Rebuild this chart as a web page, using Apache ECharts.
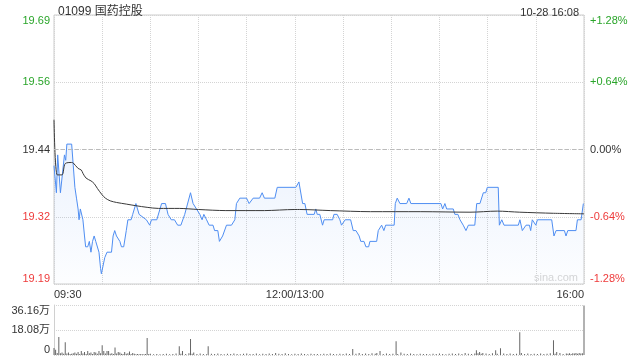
<!DOCTYPE html>
<html>
<head>
<meta charset="utf-8">
<script src="https://cdn.jsdelivr.net/npm/echarts@6/dist/echarts.min.js"></script>
<style>html,body{margin:0;padding:0;background:#fff;}#c{width:640px;height:360px;}</style>
</head>
<body>
<div id="c"></div>
<script>
// ---------- data ----------
var stockTitle = '01099 国药控股';
var stampText = '10-28 16:08';
var prevClose = 19.44;
var xTickMinutes = [0, 150, 330];
var xTickLabels = ['09:30', '12:00/13:00', '16:00'];
var priceTickLabels = ['19.19', '19.32', '19.44', '19.56', '19.69'];
var pctTickLabels = ['-1.28%', '-0.64%', '0.00%', '+0.64%', '+1.28%'];
var volTickLabels = ['0', '18.08万', '36.16万'];
var volMax = 361600;

// [minute since 09:30 (trading minutes), price]
var pricePoints = [
[0,19.41],[1.5,19.36],[2.3,19.43],[4,19.36],[6.5,19.43],[7.3,19.42],[8,19.45],[11,19.45],[12,19.41],[13,19.37],
[14,19.35],[15,19.33],[15.6,19.31],[16.4,19.33],[17.3,19.33],[18,19.31],[19,19.28],[19.7,19.26],[21,19.26],[22,19.27],
[23,19.25],[24,19.27],[25,19.28],[26,19.27],[27,19.27],[28,19.25],[29,19.22],[29.5,19.21],[30,19.21],[31.6,19.24],
[32.6,19.24],[33,19.25],[35.8,19.25],[36.8,19.28],[37.8,19.29],[38.9,19.28],[39.9,19.28],[41,19.27],[42,19.26],[43.4,19.26],
[45,19.29],[46,19.31],[48,19.31],[49,19.32],[50,19.32],[51,19.34],[52,19.33],[53,19.32],[57.5,19.31],[59.6,19.30],
[60.7,19.31],[64,19.31],[67,19.34],[69.4,19.34],[71,19.32],[73,19.31],[75,19.31],[77,19.30],[79,19.30],[81.4,19.32],
[82.5,19.32],[85,19.36],[86.6,19.34],[88.7,19.33],[90.8,19.32],[92.2,19.31],[93.3,19.32],[95,19.31],[96.6,19.30],[99,19.30],
[100,19.29],[102,19.29],[103,19.27],[105,19.28],[107.4,19.30],[110.5,19.30],[112.6,19.31],[113.6,19.34],[115.7,19.35],[119.9,19.35],
[121.5,19.34],[124,19.35],[128,19.35],[129.6,19.36],[131,19.35],[137.5,19.35],[139,19.37],[150.6,19.37],[152.5,19.38],[153.7,19.38],
[154.8,19.34],[156.2,19.34],[157.6,19.32],[162,19.32],[163,19.33],[163.9,19.32],[165.5,19.32],[167.2,19.30],[168.2,19.31],[173.5,19.31],
[174.3,19.32],[176.3,19.32],[178,19.31],[179,19.30],[181.3,19.31],[184.7,19.31],[186.3,19.29],[188,19.29],[190,19.28],[191,19.27],
[193,19.27],[194.2,19.26],[195.9,19.26],[196.7,19.27],[200.9,19.27],[201.9,19.29],[204,19.30],[205.4,19.29],[206.5,19.30],[211.8,19.30],
[212.5,19.34],[213.7,19.35],[215.4,19.34],[219.6,19.34],[221,19.35],[222.2,19.34],[240.9,19.34],[242,19.33],[243.4,19.34],[244.5,19.33],
[248.6,19.33],[249.6,19.32],[251.5,19.32],[252.8,19.31],[254.8,19.30],[256.5,19.29],[258,19.30],[262,19.30],[263.2,19.34],[265.2,19.34],
[267.3,19.36],[268.8,19.36],[269.8,19.37],[276.6,19.37],[277.3,19.30],[278.8,19.31],[280.2,19.30],[289.1,19.30],[290.1,19.31],[291.6,19.29],
[292.8,19.29],[293.9,19.30],[296,19.30],[296.8,19.29],[297.8,19.31],[298.9,19.31],[300,19.30],[301,19.31],[309.9,19.31],[311.3,19.28],
[312.6,19.29],[317.8,19.29],[318.8,19.28],[319.9,19.29],[325,19.29],[325.9,19.31],[328.2,19.31],[329.6,19.34],[330,19.34]
];

// [minute, average price]
var avgPoints = [
[0,19.495],[2,19.393],[5,19.393],[7,19.414],[11,19.416],[12,19.415],[15,19.405],[17,19.402],[18,19.396],[20,19.387],
[23,19.382],[25,19.377],[27,19.368],[30,19.356],[32,19.350],[35,19.345],[39,19.342],[45,19.339],[51,19.336],[58,19.333],
[65,19.331],[78,19.331],[90,19.329],[107,19.327],[131,19.327],[150,19.329],[153,19.329],[172,19.327],[197,19.325],[228,19.325],
[259,19.324],[276,19.326],[290,19.324],[311,19.322],[330,19.321]
];

// [minute, volume (shares)]
var volumePoints = [
[0,50000],[1,38000],[2,14000],[3,130000],[4,12000],[5,18000],[6,9000],[7,92000],[8,10000],[9,18000],
[10,7000],[11,9000],[12,12000],[13,18000],[14,9000],[15,22000],[16,8000],[17,29000],[18,10000],[19,22000],
[20,7000],[21,29000],[22,12000],[23,18000],[24,8000],[25,22000],[26,18000],[27,9000],[28,29000],[29,12000],
[30,70000],[31,29000],[32,10000],[33,29000],[34,29000],[35,9000],[36,12000],[37,8000],[38,55000],[39,10000],
[40,22000],[41,18000],[42,9000],[43,7000],[44,22000],[45,9000],[46,12000],[47,25000],[48,8000],[49,14000],
[50,9000],[51,6000],[52,8000],[53,5000],[54,7000],[55,6000],[56,5000],[57,8000],[58,123000],[59,7000],
[60,9000],[62,6000],[64,8000],[66,5000],[68,7000],[70,9000],[72,6000],[74,8000],[76,11000],[78,63000],
[79,9000],[80,29000],[82,8000],[84,12000],[85,116000],[86,9000],[87,18000],[89,7000],[91,10000],[93,8000],
[95,6000],[96,63000],[98,9000],[100,7000],[102,11000],[104,8000],[106,6000],[108,9000],[110,7000],[112,10000],
[114,8000],[116,6000],[118,9000],[120,11000],[122,7000],[124,8000],[126,10000],[128,6000],[130,9000],[132,7000],
[134,11000],[136,8000],[138,14000],[140,9000],[142,7000],[144,12000],[146,8000],[148,6000],[150,9000],[152,7000],
[154,10000],[156,8000],[158,6000],[160,9000],[162,7000],[164,8000],[166,6000],[168,9000],[170,7000],[172,10000],
[174,8000],[176,6000],[178,9000],[180,7000],[182,11000],[184,8000],[186,43000],[188,9000],[190,14000],[192,8000],
[194,11000],[196,7000],[198,12000],[200,9000],[201,14000],[203,29000],[205,8000],[207,10000],[209,7000],[211,9000],
[213,99000],[214,8000],[216,18000],[218,9000],[220,7000],[222,10000],[224,8000],[226,6000],[228,9000],[230,7000],
[232,8000],[234,6000],[236,9000],[238,7000],[240,10000],[242,8000],[244,6000],[246,9000],[248,11000],[250,8000],
[252,10000],[254,7000],[256,14000],[258,9000],[260,8000],[262,11000],[263,34000],[264,12000],[265,22000],[266,9000],
[267,14000],[269,10000],[271,8000],[273,12000],[275,34000],[276,9000],[278,48000],[280,10000],[282,8000],[284,11000],
[286,7000],[288,9000],[290,164000],[291,14000],[293,8000],[295,10000],[297,7000],[299,9000],[301,8000],[303,11000],
[305,7000],[307,9000],[309,12000],[311,106000],[312,9000],[313,22000],[315,14000],[317,8000],[319,11000],[320,9000],
[321,13000],[322,8000],[323,12000],[324,10000],[325,14000],[326,9000],[327,15000],[328,11000],[329,13000],[330,358000]
];

// ---------- helpers ----------
function toPct(p) { return (p / prevClose - 1) * 100; }
var GREEN = '#2aa52a', RED = '#ee3b3b', DARK = '#333333';
function pctIndex(v) { return Math.round((parseFloat(v) + 1.28) / 0.64); }
function pctColor(v) {
  var i = pctIndex(v);
  return i > 2 ? GREEN : (i < 2 ? RED : DARK);
}
var FONT = "'Liberation Sans', Arial, 'Noto Sans CJK SC', sans-serif";

var priceSeries = pricePoints.map(function (d) { return [d[0], toPct(d[1])]; });
var avgSeries = avgPoints.map(function (d) { return [d[0], toPct(d[1])]; });

var chart = echarts.init(document.getElementById('c'), null, { renderer: 'canvas' });
chart.setOption({
  animation: false,
  backgroundColor: '#fff',
  textStyle: { fontFamily: FONT },
  title: [
    { text: stockTitle, left: 53, top: 1, textStyle: { fontSize: 12, fontWeight: 'normal', color: '#333', fontFamily: FONT } },
    { text: stampText, right: 56, top: 2, textStyle: { fontSize: 11, fontWeight: 'normal', color: '#333', fontFamily: FONT } }
  ],
  grid: [
    { left: 54, right: 56, top: 15, height: 269, show: true, borderColor: '#cccccc', borderWidth: 1, backgroundColor: 'transparent' },
    { left: 54, right: 56, top: 305, height: 50, show: false }
  ],
  xAxis: [
    {
      type: 'value', gridIndex: 0, min: 0, max: 330, interval: 30,
      axisLine: { show: false }, axisTick: { show: false },
      splitLine: { show: true, lineStyle: { color: '#d4d4d4', type: 'dotted', width: 1 } },
      axisLabel: {
        margin: 5, fontSize: 11, color: '#333', fontFamily: FONT,
        showMinLabel: true, showMaxLabel: true,
        alignMinLabel: 'left', alignMaxLabel: 'right',
        formatter: function (v) {
          var i = xTickMinutes.indexOf(Math.round(v));
          return i >= 0 ? xTickLabels[i] : '';
        }
      }
    },
    {
      type: 'value', gridIndex: 1, min: 0, max: 330, interval: 30,
      axisLine: { show: false }, axisTick: { show: false },
      splitLine: { show: false }, axisLabel: { show: false }
    }
  ],
  yAxis: [
    {
      type: 'value', gridIndex: 0, min: -1.28, max: 1.28, interval: 0.64,
      axisLine: { show: false }, axisTick: { show: false },
      splitLine: { show: true, lineStyle: { color: '#d4d4d4', type: 'dotted', width: 1 } },
      axisLabel: {
        margin: 4, fontSize: 11, fontFamily: FONT,
        showMinLabel: true, showMaxLabel: true,
        verticalAlignMinLabel: 'bottom', verticalAlignMaxLabel: 'top',
        color: function (v) { return pctColor(v); },
        formatter: function (v) { return priceTickLabels[pctIndex(v)]; }
      }
    },
    {
      type: 'value', gridIndex: 0, position: 'right', min: -1.28, max: 1.28, interval: 0.64,
      axisLine: { show: false }, axisTick: { show: false }, splitLine: { show: false },
      axisLabel: {
        margin: 6, fontSize: 11, fontFamily: FONT,
        showMinLabel: true, showMaxLabel: true,
        verticalAlignMinLabel: 'bottom', verticalAlignMaxLabel: 'top',
        color: function (v) { return pctColor(v); },
        formatter: function (v) { return pctTickLabels[pctIndex(v)]; }
      }
    },
    {
      type: 'value', gridIndex: 1, min: 0, max: volMax, interval: volMax / 2,
      axisLine: { show: true, lineStyle: { color: '#d0d0d0' } }, axisTick: { show: false },
      splitLine: { show: true, lineStyle: { color: '#d4d4d4', type: 'dotted', width: 1 } },
      axisLabel: {
        margin: 4, fontSize: 11, color: '#333', fontFamily: FONT,
        showMinLabel: true, showMaxLabel: true,
        verticalAlignMinLabel: 'bottom', verticalAlignMaxLabel: 'top',
        formatter: function (v) { return volTickLabels[Math.round(v / (volMax / 2))]; }
      }
    }
  ],
  series: [
    {
      name: 'price', type: 'line', xAxisIndex: 0, yAxisIndex: 0,
      data: priceSeries, showSymbol: false, symbol: 'none',
      lineStyle: { color: '#4f8ef2', width: 1 },
      areaStyle: {
        origin: 'start',
        color: new echarts.graphic.LinearGradient(0, 0, 0, 1, [
          { offset: 0, color: 'rgba(79,142,242,0.16)' },
          { offset: 1, color: 'rgba(79,142,242,0.02)' }
        ])
      },
      markLine: {
        silent: true, symbol: 'none', label: { show: false },
        lineStyle: { color: '#bbbbbb', type: [4, 3], width: 1 },
        data: [{ yAxis: 0 }]
      },
      z: 3
    },
    {
      name: 'avg', type: 'line', xAxisIndex: 0, yAxisIndex: 0,
      data: avgSeries, showSymbol: false, symbol: 'none', smooth: 0.3,
      lineStyle: { color: '#3a3a3a', width: 1 },
      z: 4
    },
    {
      name: 'volume', type: 'bar', xAxisIndex: 1, yAxisIndex: 2,
      data: volumePoints, barWidth: 1,
      itemStyle: { color: '#666666' }
    }
  ],
  graphic: [
    { type: 'text', right: 62, top: 272, style: { text: 'sina.com', fill: '#d6d6d6', font: "11px " + FONT } }
  ]
});
</script>
</body>
</html>
